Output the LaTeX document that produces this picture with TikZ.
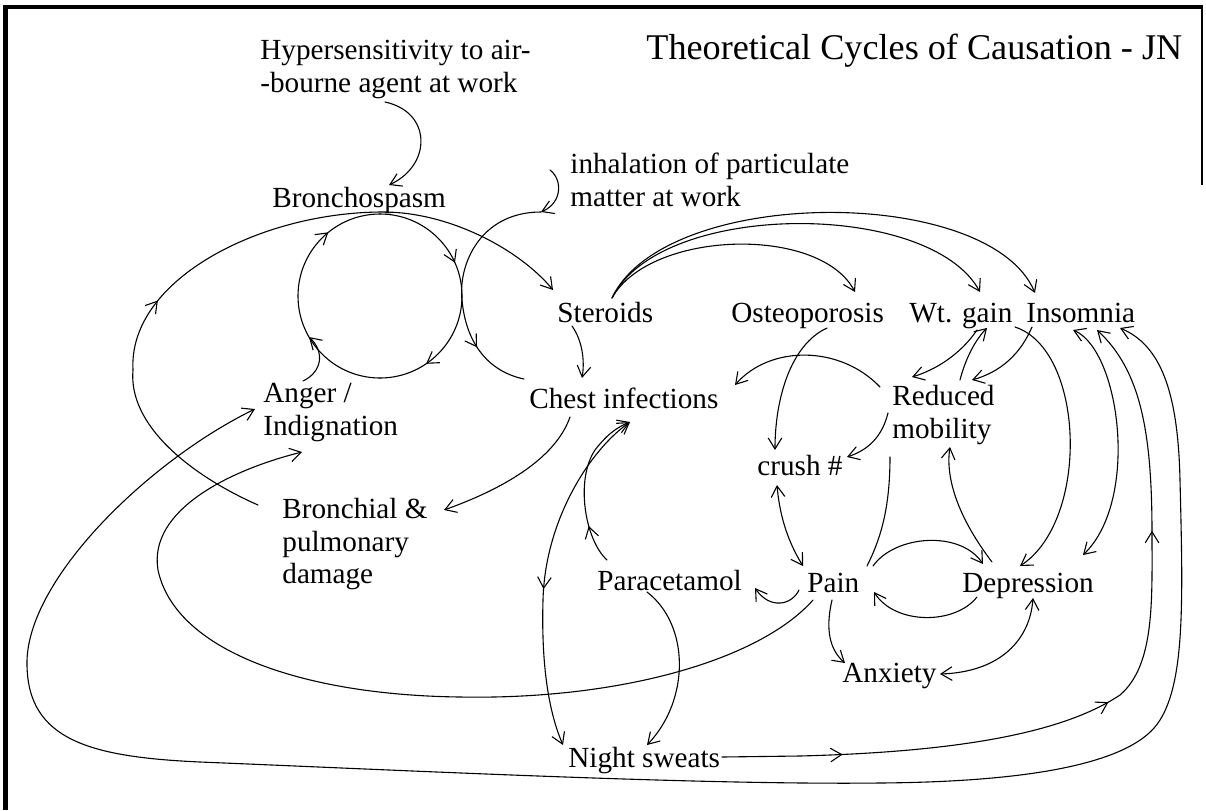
\documentclass[tikz,border=0pt]{standalone}
\usepackage{fontspec}
\setmainfont{Liberation Serif}
\usetikzlibrary{arrows.meta,calc,decorations.markings}
\tikzset{
  vb/.tip={Straight Barb[length=5.5pt,width=6.8pt]},
  lbl/.style={inner sep=0pt,anchor=base west,font=\fontsize{14.6}{16.3}\selectfont},
  mlbl/.style={inner sep=0pt,anchor=north west,align=left,font=\fontsize{14.6}{16.3}\selectfont},
  ttl/.style={inner sep=0pt,anchor=base west,font=\fontsize{18.1}{20}\selectfont},
  con/.style={line width=0.55pt,line cap=round,line join=round},
  arr/.style={con,-vb},
  darr/.style={con,vb-vb},
  midarr/.style={postaction={decorate,decoration={markings,mark=at position #1 with {\arrow{vb}}}}},
  frame/.style={line width=#1},
}
\begin{document}
\begin{tikzpicture}[x=0.5pt,y=-0.5pt]
\useasboundingbox (0,0) rectangle (1206,810);
\fill[white] (0,0) rectangle (1206,810);
% frame
\draw[frame=2.5pt] (5,810) -- (5,5.5);
\draw[frame=2pt] (3,7) -- (1203,7);
\draw[frame=0.8pt] (1202,7) -- (1202,185);

% nodes
\node[ttl] (title) at (646,59) {Theoretical Cycles of Causation - JN};
\node[mlbl] (hyp) at (260,40) {Hypersensitivity to air-\\-bourne agent at work};
\node[lbl] (bron) at (272,207) {Bronchospasm};
\node[mlbl] (inh) at (570,153) {inhalation of particulate\\matter at work};
\node[lbl] (ster) at (557,322) {Steroids};
\node[lbl] (osteo) at (731,322) {Osteoporosis};
\node[lbl] (wt) at (909,322) {Wt. gain};
\node[lbl] (insom) at (1026,322) {Insomnia};
\node[mlbl] (anger) at (263,383) {Anger /\\Indignation};
\node[lbl] (chest) at (529,408) {Chest infections};
\node[mlbl] (red) at (892,385) {Reduced\\mobility};
\node[lbl] (crush) at (757,475) {crush \#};
\node[mlbl] (dam) at (282,498) {Bronchial \&\\pulmonary\\damage};
\node[lbl] (para) at (597,590) {Paracetamol};
\node[lbl] (pain) at (807,592) {Pain};
\node[lbl] (dep) at (962,592) {Depression};
\node[lbl] (anx) at (842,682) {Anxiety};
\node[lbl] (night) at (568,767) {Night sweats};
\coordinate (cyc) at (380,296);
\coordinate (inhj) at (541,212);

% hypersensitivity -> bronchospasm
\draw[arr] ($(hyp.north west)+(125,62)$) .. controls (432,112) and (432,165) .. ($(bron.base west)+(117,-22)$);
% bronchospasm cycle
\draw[con,midarr=0.367,midarr=0.81] ($(cyc)+(-90:82)$) arc[start angle=-90,end angle=90,radius=82];
\draw[con,midarr=0.783] ($(cyc)+(90:82)$) arc[start angle=90,end angle=270,radius=82];
\draw[arr] ($(anger.north west)+(40,-2)$) .. controls (322,372) and (325,352) .. ($(cyc)+(150:82)$);
% damage -> bronchospasm -> steroids
\draw[arr,midarr=0.38] ($(dam.north west)+(-24,7)$) .. controls (190,475) and (128,425) .. (133,370)
  .. controls (128,280) and (260,212) .. ($(bron.base west)+(111,5)$)
  .. controls (450,212) and (520,250) .. ($(ster.base west)+(-4,-32)$);
% inhalation
\draw[arr] ($(inh.north west)+(-20,17)$) .. controls (563,180) and (562,203) .. (inhj);
\draw[con,midarr=0.76] (inhj) .. controls (480,212) and (458,265) .. (462,300)
  .. controls (466,345) and (490,372) .. ($(chest.base west)+(-5,-29)$);
% steroids
\draw[arr] ($(ster.base west)+(15,4)$) .. controls (582,340) and (585,360) .. ($(chest.base west)+(53,-30)$);
\draw[arr] ($(ster.base west)+(55,-24)$) .. controls (650,230) and (820,225) .. ($(osteo.base west)+(124,-30)$);
\draw[arr] ($(ster.base west)+(55,-24)$) .. controls (660,200) and (930,200) .. ($(wt.base west)+(71,-30)$);
\draw[arr] ($(ster.base west)+(55,-24)$) .. controls (665,185) and (990,185) .. ($(insom.base west)+(9,-29)$);
% osteoporosis -> crush
\draw[arr] ($(osteo.base west)+(96,6)$) .. controls (790,345) and (775,400) .. ($(crush.base west)+(18,-25)$);
% reduced mobility
\draw[arr] ($(red.north west)+(-12,2)$) .. controls (840,345) and (770,345) .. ($(chest.base west)+(206,-23)$);
\draw[arr] ($(red.north west)+(-4,28)$) .. controls (882,437) and (868,450) .. ($(crush.base west)+(90,-18)$);
\draw[arr] ($(wt.base west)+(68,8)$) .. controls (960,355) and (935,370) .. ($(red.north west)+(20,-8)$);
\draw[arr] ($(red.north west)+(68,-5)$) .. controls (965,360) and (975,340) .. ($(wt.base west)+(78,6)$);
\draw[arr] ($(insom.base west)+(6,5)$) .. controls (1020,355) and (1000,372) .. ($(red.north west)+(80,-5)$);
\draw[arr] ($(wt.base west)+(106,5)$) .. controls (1085,350) and (1090,520) .. ($(dep.base west)+(58,-26)$);
\draw[darr] ($(insom.base west)+(47,8)$) .. controls (1120,350) and (1140,500) .. ($(dep.base west)+(121,-37)$);
\draw[arr] ($(dep.base west)+(30,-30)$) .. controls (960,520) and (945,480) .. ($(red.north west)+(58,62)$);
\draw[con] ($(red.north west)+(-2,72)$) .. controls (890,510) and (880,540) .. ($(pain.base west)+(60,-26)$);
% pain / depression
\draw[arr] ($(pain.base west)+(66,-26)$) .. controls (895,535) and (960,530) .. ($(dep.base west)+(21,-28)$);
\draw[arr] ($(dep.base west)+(15,5)$) .. controls (955,625) and (895,625) .. ($(pain.base west)+(67,0)$);
\draw[darr] ($(crush.base west)+(20,10)$) .. controls (780,520) and (790,545) .. ($(pain.base west)+(-4,-26)$);
\draw[arr] ($(pain.base west)+(-8,-2)$) .. controls (792,605) and (770,610) .. ($(para.base west)+(158,-2)$);
\draw[arr] ($(pain.base west)+(25,8)$) .. controls (825,630) and (830,650) .. ($(anx.base west)+(3,-19)$);
\draw[darr] ($(dep.base west)+(71,6)$) .. controls (1030,640) and (1000,672) .. ($(anx.base west)+(98,-8)$);
% paracetamol / chest / night sweats
\draw[arr,midarr=0.24] ($(para.base west)+(10,-30)$) .. controls (585,540) and (575,480) .. (595,450)
  .. controls (605,437) and (615,428) .. ($(chest.base west)+(101,14)$);
\draw[darr,midarr=0.55] ($(chest.base west)+(101,14)$) .. controls (590,450) and (545,520) .. (543,600)
  .. controls (541,670) and (550,715) .. ($(night.base west)+(-5,-22)$);
\draw[arr] ($(para.base west)+(50,2)$) .. controls (690,625) and (690,700) .. ($(night.base west)+(79,-22)$);
\draw[arr] ($(chest.base west)+(41,9)$) .. controls (555,460) and (500,490) .. ($(dam.north west)+(162,12)$);
% night sweats -> insomnia
\draw[arr,midarr=0.152,midarr=0.496,midarr=0.73] ($(night.base west)+(154,-10)$) -- (800,756)
  .. controls (950,752) and (1060,735) .. (1120,695)
  .. controls (1155,665) and (1152,600) .. (1152,533)
  .. controls (1152,430) and (1140,370) .. ($(insom.base west)+(71,8)$);
% anger <-> insomnia (outer loop)
\draw[darr] ($(anger.north west)+(-8,26)$) .. controls (150,460) and (25,580) .. (27,665)
  .. controls (28,740) and (90,757) .. (200,762)
  .. controls (420,771) and (700,785) .. (880,783)
  .. controls (1000,782) and (1130,770) .. (1160,720)
  .. controls (1185,680) and (1183,600) .. (1180,480)
  .. controls (1178,390) and (1160,345) .. ($(insom.base west)+(94,6)$);
% pain -> indignation
\draw[arr] ($(pain.base west)+(6,8)$) .. controls (760,660) and (620,700) .. (460,697)
  .. controls (300,695) and (175,650) .. (158,570)
  .. controls (148,510) and (230,470) .. ($(anger.north west)+(39,69)$);
\end{tikzpicture}
\end{document}
